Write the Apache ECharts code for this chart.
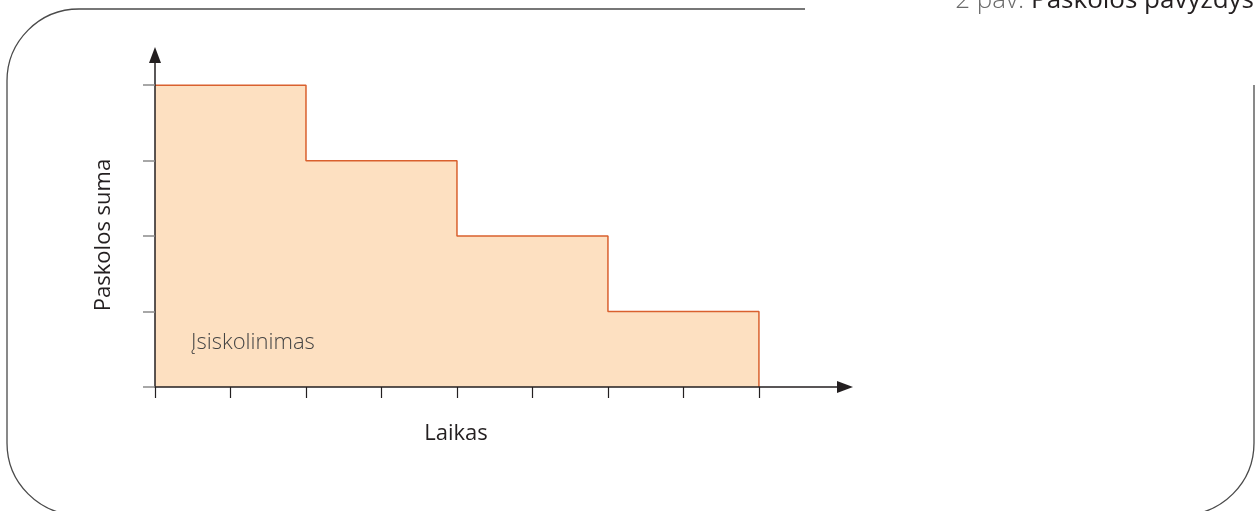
<!DOCTYPE html>
<html>
<head>
<meta charset="utf-8">
<script src="https://cdn.jsdelivr.net/npm/echarts@6/dist/echarts.min.js"></script>
<style>
  html, body { margin: 0; padding: 0; background: #fff; }
  #chart { width: 1256px; height: 511px; }
</style>
</head>
<body>
<div id="chart"></div>
<script>
// laiptai: pradžios taškai ir įsiskolinimo lygis
var stepStarts = [0, 2, 4, 6, 8];
var debtLevels = [4, 3, 2, 1];
var xTicks = [0, 1, 2, 3, 4, 5, 6, 7, 8];
var yTicks = [0, 1, 2, 3, 4];

var titleNumber = '2 pav. ';
var titleText = 'Paskolos pavyzdys';
var xName = 'Laikas';
var yName = 'Paskolos suma';
var areaName = 'Įsiskolinimas';

var font = '"Open Sans", "Noto Sans", sans-serif';

var chart = echarts.init(document.getElementById('chart'));

var stepData = [];
for (var i = 0; i < debtLevels.length; i++) {
  stepData.push([stepStarts[i], debtLevels[i]]);
}
stepData.push([stepStarts[stepStarts.length - 1], debtLevels[debtLevels.length - 1]]);
stepData.push([stepStarts[stepStarts.length - 1], 0]);

var frameStyle = { fill: null, stroke: '#4a4a4a', lineWidth: 1.3 };

var option = {
  animation: false,
  backgroundColor: '#fff',
  grid: { left: 155, top: 55, width: 690, height: 332, containLabel: false },
  xAxis: {
    type: 'value',
    min: 0,
    max: 9.14,
    interval: 1,
    z: 5,
    splitLine: { show: false },
    axisLabel: { show: false },
    axisLine: {
      show: true,
      onZero: false,
      symbol: ['none', 'triangle'],
      symbolSize: [12, 16],
      lineStyle: { color: '#231f20', width: 1.5 }
    },
    axisTick: {
      show: true,
      customValues: xTicks,
      length: 11,
      lineStyle: { color: '#231f20', width: 1.2 }
    }
  },
  yAxis: {
    type: 'value',
    min: 0,
    max: 4.4,
    interval: 1,
    z: 5,
    splitLine: { show: false },
    axisLabel: { show: false },
    axisLine: {
      show: true,
      onZero: false,
      symbol: ['none', 'triangle'],
      symbolSize: [12, 16],
      lineStyle: { color: '#231f20', width: 1.5 }
    },
    axisTick: {
      show: true,
      customValues: yTicks,
      length: 12,
      lineStyle: { color: '#8a8a8a', width: 1.5 }
    }
  },
  series: [{
    type: 'line',
    step: 'end',
    data: stepData,
    showSymbol: false,
    z: 2,
    lineStyle: { color: '#d9602e', width: 1.5 },
    areaStyle: { color: '#fde0c1', opacity: 1, origin: 'start' }
  }],
  graphic: [
    // rėmelis
    { type: 'polyline', silent: true, shape: { points: [[805, 9], [79, 9]] }, style: frameStyle },
    { type: 'arc', silent: true, shape: { cx: 79, cy: 81, r: 72, startAngle: Math.PI, endAngle: Math.PI * 1.5, clockwise: true }, style: frameStyle },
    { type: 'polyline', silent: true, shape: { points: [[7, 81], [7, 443]] }, style: frameStyle },
    { type: 'arc', silent: true, shape: { cx: 79, cy: 443, r: 72, startAngle: Math.PI / 2, endAngle: Math.PI, clockwise: true }, style: frameStyle },
    { type: 'polyline', silent: true, shape: { points: [[1254, 85], [1254, 443]] }, style: frameStyle },
    { type: 'arc', silent: true, shape: { cx: 1182, cy: 443, r: 72, startAngle: 0, endAngle: Math.PI / 2, clockwise: true }, style: frameStyle },
    {
      type: 'text',
      x: 1254,
      y: 1,
      z: 10,
      style: {
        text: '{a|' + titleNumber + '}{b|' + titleText + '}',
        align: 'right',
        verticalAlign: 'middle',
        rich: {
          a: { fontSize: 26, fontFamily: font, fontWeight: 300, fill: '#6a6a6a' },
          b: { fontSize: 26, fontFamily: font, fill: '#231f20' }
        }
      }
    },
    {
      type: 'text',
      x: 191,
      y: 343,
      z: 10,
      style: {
        text: areaName,
        fontSize: 22,
        fontFamily: font,
        fontWeight: 300,
        fill: '#444',
        align: 'left',
        verticalAlign: 'middle'
      }
    },
    {
      type: 'text',
      x: 456,
      y: 434,
      z: 10,
      style: {
        text: xName,
        fontSize: 22,
        fontFamily: font,
        fill: '#231f20',
        align: 'center',
        verticalAlign: 'middle'
      }
    },
    {
      type: 'text',
      x: 104,
      y: 235,
      z: 10,
      rotation: Math.PI / 2,
      style: {
        text: yName,
        fontSize: 22,
        fontFamily: font,
        fill: '#231f20',
        align: 'center',
        verticalAlign: 'middle'
      }
    }
  ]
};

chart.setOption(option);
window.onresize = function () {
  chart.resize();
};
</script>
</body>
</html>
